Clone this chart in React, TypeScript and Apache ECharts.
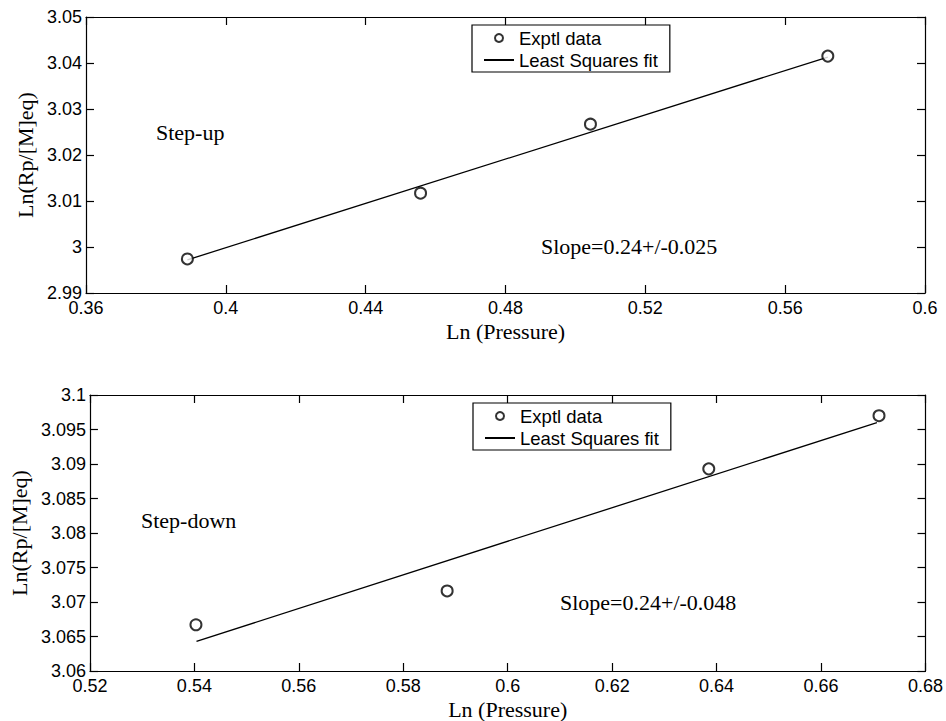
import React, { useEffect, useRef } from "react";
import * as echarts from "echarts";

// Step-up experiment
const upPressure = [0.389, 0.4557, 0.5043, 0.5722];
const upRate = [2.9974, 3.0117, 3.0267, 3.0415];
const upFitX = [0.389, 0.5722];
const upFitY = [2.9972, 3.0413];

// Step-down experiment
const downPressure = [0.5403, 0.5884, 0.6385, 0.6711];
const downRate = [3.0667, 3.0716, 3.0893, 3.097];
const downFitX = [0.5404, 0.6707];
const downFitY = [3.0643, 3.096];

// Axis ranges [min, max, interval]
const upXRange = [0.36, 0.6, 0.04];
const upYRange = [2.99, 3.05, 0.01];
const downXRange = [0.52, 0.68, 0.02];
const downYRange = [3.06, 3.1, 0.005];

const legendNames = ["Exptl data", "Least Squares fit"];
const xName = "Ln (Pressure)";
const yName = "Ln(Rp/[M]eq)";
const notes = ["Step-up", "Slope=0.24+/-0.025", "Step-down", "Slope=0.24+/-0.048"];

const SANS = "'Liberation Sans', Arial, sans-serif";
const SERIF = "'Liberation Serif', 'Times New Roman', serif";

const fmt = (v: number) => String(parseFloat(v.toFixed(4)));

function axisBase(range: number[], gridIndex: number, position: string, showLabels: boolean, extra: any = {}) {
  return {
    type: "value",
    gridIndex,
    position,
    min: range[0],
    max: range[1],
    interval: range[2],
    axisLine: { show: true, onZero: false, lineStyle: { color: "#000", width: 1.2 } },
    axisTick: { show: true, inside: true, length: 8, lineStyle: { color: "#000", width: 1.2 } },
    axisLabel: {
      show: showLabels,
      color: "#000",
      fontFamily: SANS,
      fontSize: 18,
      formatter: fmt,
      margin: position === "bottom" ? 6 : 4,
    },
    splitLine: { show: false },
    ...extra,
  };
}

function xAxisMain(range: number[], gridIndex: number) {
  return axisBase(range, gridIndex, "bottom", true, {
    name: xName,
    nameLocation: "middle",
    nameGap: 27,
    nameTextStyle: { color: "#000", fontFamily: SERIF, fontSize: 22 },
  });
}

function yAxisMain(range: number[], gridIndex: number, gap: number) {
  return axisBase(range, gridIndex, "left", true, {
    name: yName,
    nameLocation: "middle",
    nameGap: gap,
    nameRotate: 90,
    nameTextStyle: { color: "#000", fontFamily: SERIF, fontSize: 22 },
  });
}

function pairs(xs: number[], ys: number[]) {
  return xs.map((x, i) => [x, ys[i]]);
}

function legendAt(left: number, top: number) {
  return {
    orient: "vertical",
    left,
    top,
    data: [
      { name: legendNames[0] },
      { name: legendNames[1], itemStyle: { opacity: 0 } },
    ],
    itemWidth: 30,
    itemHeight: 8,
    itemGap: 2,
    padding: [3, 12, 2, 11],
    borderColor: "#000",
    borderWidth: 1.2,
    backgroundColor: "#fff",
    selectedMode: false,
    textStyle: { color: "#000", fontFamily: SANS, fontSize: 18.5, lineHeight: 20 },
  };
}

function scatterSeries(xi: number, data: number[][]) {
  return {
    name: legendNames[0],
    type: "scatter",
    xAxisIndex: xi,
    yAxisIndex: xi,
    data,
    symbol: "emptyCircle",
    symbolSize: 11,
    itemStyle: { color: "#000", borderColor: "#000", borderWidth: 1.3 },
    z: 3,
  };
}

function fitSeries(xi: number, data: number[][]) {
  return {
    name: legendNames[1],
    type: "line",
    xAxisIndex: xi,
    yAxisIndex: xi,
    data,
    symbol: "none",
    showSymbol: false,
    lineStyle: { color: "#000", width: 1.3 },
    itemStyle: { color: "#000" },
    z: 2,
  };
}

function note(text: string, left: number, cy: number) {
  return {
    type: "text",
    left,
    top: cy - 12,
    style: { text, fill: "#000", font: `22px ${SERIF}` },
  };
}

export default function App() {
  const ref = useRef<HTMLDivElement>(null);
  useEffect(() => {
    if (!ref.current) return;
    const chart = echarts.init(ref.current, null, { renderer: "svg" });
    chart.setOption({
      animation: false,
      backgroundColor: "#fff",
      grid: [
        { left: 86, top: 17, width: 839, height: 276 },
        { left: 88, top: 395, width: 838, height: 276 },
      ],
      xAxis: [
        xAxisMain(upXRange, 0),
        axisBase(upXRange, 0, "top", false),
        xAxisMain(downXRange, 1),
        axisBase(downXRange, 1, "top", false),
      ],
      yAxis: [
        yAxisMain(upYRange, 0, 50),
        axisBase(upYRange, 0, "right", false),
        yAxisMain(downYRange, 1, 54),
        axisBase(downYRange, 1, "right", false),
      ],
      legend: [legendAt(472, 25), legendAt(473, 403)],
      series: [
        scatterSeries(0, pairs(upPressure, upRate)),
        fitSeries(0, pairs(upFitX, upFitY)),
        scatterSeries(2, pairs(downPressure, downRate)),
        fitSeries(2, pairs(downFitX, downFitY)),
      ],
      graphic: [
        note(notes[0], 156, 133),
        note(notes[1], 541, 247),
        note(notes[2], 141, 521),
        note(notes[3], 560, 603),
      ],
    });
    return () => chart.dispose();
  }, []);
  return (
    <div
      ref={ref}
      style={{ position: "fixed", left: 0, top: 0, width: 946, height: 721, background: "#fff" }}
    />
  );
}
